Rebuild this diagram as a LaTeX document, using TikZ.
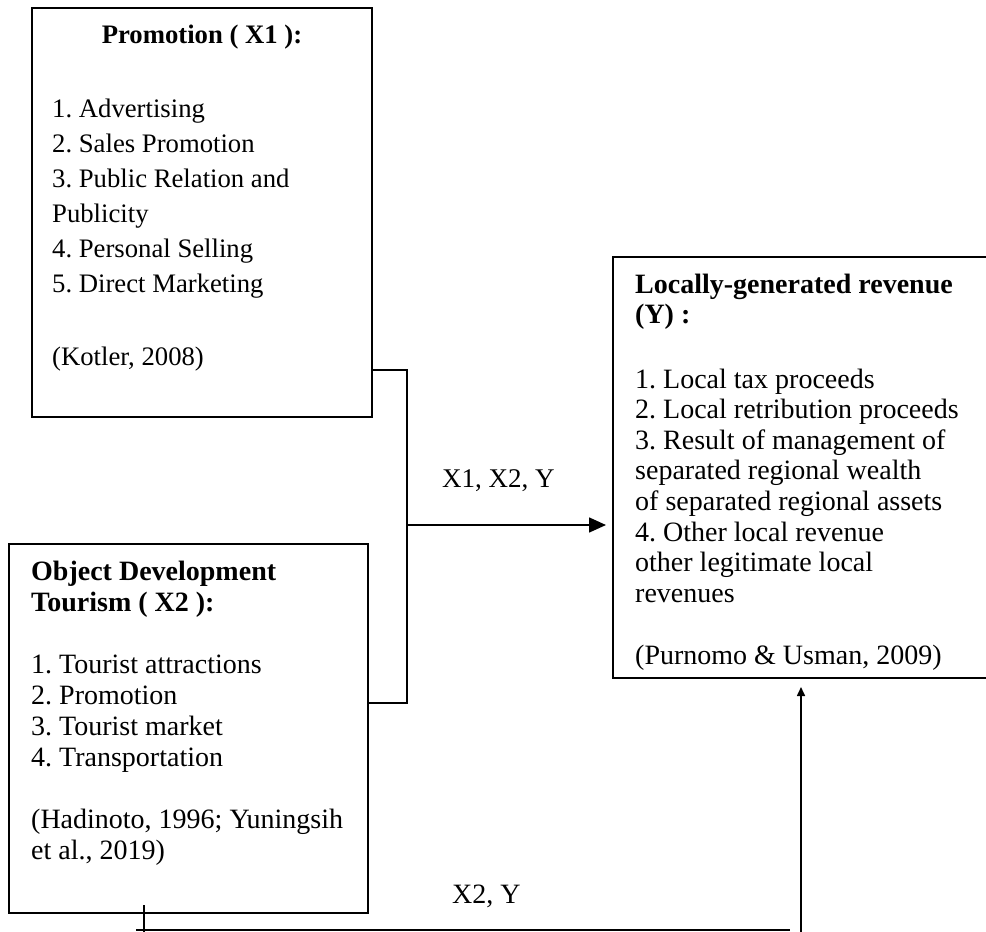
\documentclass[tikz,border=0pt]{standalone}
\usepackage{fontspec}
\setmainfont{Liberation Serif}
\usetikzlibrary{arrows.meta}
\frenchspacing
\newcommand{\txtlines}[1]{\begin{tabular}[t]{@{}l@{}}#1\end{tabular}}
\begin{document}
\begin{tikzpicture}[x=1pt,y=-1pt,
  boxline/.style={draw=black, line width=1.8pt, inner sep=0pt, outer sep=0pt, anchor=north west},
  conn/.style={draw=black, line width=1.6pt},
  txt/.style={anchor=base west, inner sep=0pt},
  fsmall/.style={font=\frenchspacing\fontsize{26.7}{35}\selectfont},
  fbig/.style={font=\frenchspacing\fontsize{28}{31}\selectfont},
  fy/.style={font=\frenchspacing\fontsize{28}{30.6}\selectfont},
  bigarrow/.style={-{Triangle[length=17pt,width=15pt]}},
  smallarrow/.style={-{Triangle[length=9pt,width=8pt]}}
]
\useasboundingbox (0,0) rectangle (986,932);
\clip (0,0) rectangle (986,932);

% boxes
\node[boxline, minimum width=340pt, minimum height=409pt] (bx1) at (32,8) {};
\node[boxline, minimum width=359pt, minimum height=369pt] (bx2) at (9,544) {};
\node[boxline, minimum width=390pt, minimum height=421pt] (by) at (613,257) {};

% X1 text
\node[txt, fsmall, anchor=base] (t1title) at (202,43) {\textbf{Promotion ( X1 ):}};
\node[txt, fsmall] (t1list) at (52,117) {\txtlines{1. Advertising\\2. Sales Promotion\\3. Public Relation and\\Publicity\\4. Personal Selling\\5. Direct Marketing}};
\node[txt, fsmall] (t1cite) at (52,365) {(Kotler, 2008)};

% X2 text
\node[txt, fbig] (t2title) at (31,580) {\txtlines{\textbf{Object Development}\\\textbf{Tourism ( X2 ):}}};
\node[txt, fbig] (t2list) at (31,673) {\txtlines{1. Tourist attractions\\2. Promotion\\3. Tourist market\\4. Transportation}};
\node[txt, fbig] (t2cite) at (31,828) {\txtlines{(Hadinoto, 1996; Yuningsih\\et al., 2019)}};

% Y text
\node[txt, fy] (tytitle) at (635,293) {\txtlines{\textbf{Locally-generated revenue}\\\textbf{(Y) :}}};
\node[txt, fy] (tylist) at (635,388) {\txtlines{1. Local tax proceeds\\2. Local retribution proceeds\\3. Result of management of\\separated regional wealth\\of separated regional assets\\4. Other local revenue\\other legitimate local\\revenues}};
\node[txt, fy] (tycite) at (635,664) {(Purnomo \& Usman, 2009)};

% labels
\node[txt, font=\frenchspacing\fontsize{27}{30}\selectfont] (l1) at (442,487) {X1, X2, Y};
\node[txt, fbig] (l2) at (452,903) {X2, Y};

% connectors
\coordinate (j1) at (407,370);
\coordinate (j2) at (407,703);
\coordinate (j3) at (407,525);
\draw[conn] (j1 -| bx1.east) -- (j1) -- (j2) -- (j2 -| bx2.east);
\draw[conn, bigarrow, shorten >=7pt] (j3) -- (j3 -| by.west);

\coordinate (k1) at (144,905);
\coordinate (k2) at (144,932);
\coordinate (k3) at (136,930);
\coordinate (k4) at (790,930);
\coordinate (k5) at (801,932);
\draw[conn] (k1) -- (k2);
\draw[conn] (k3) -- (k4);
\draw[conn, smallarrow, shorten >=9pt] (k5) -- (k5 |- by.south);
\end{tikzpicture}
\end{document}
